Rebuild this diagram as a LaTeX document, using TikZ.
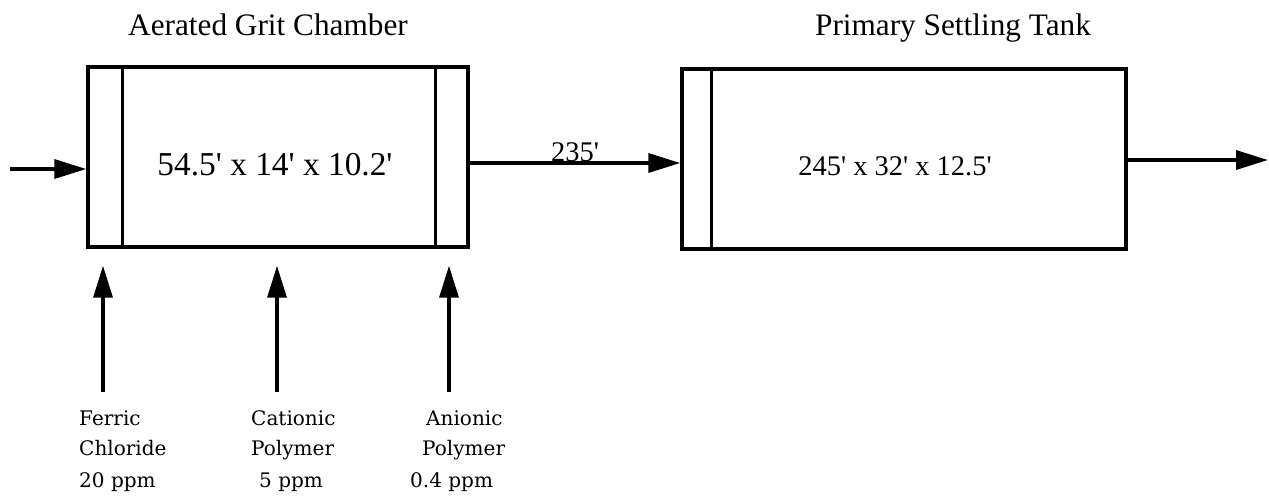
\documentclass[tikz,border=0pt]{standalone}
\usepackage{fontspec}
\setmainfont{Liberation Serif}[Ligatures=TeXOff]
\newfontfamily\labelfont{DejaVu Serif}
\usetikzlibrary{arrows.meta}

\tikzset{
    vessel/.style={draw, line width=2pt, minimum height=3.6cm, inner sep=0pt},
    flow/.style={line width=2pt, -{Triangle[length=0.64cm, width=0.38cm]}},
    title/.style={anchor=base, font=\fontsize{17.8}{20}\selectfont},
    dose/.style={anchor=base west, font=\labelfont\fontsize{11.4}{13}\selectfont},
}

\begin{document}
\begin{tikzpicture}[x=0.02cm, y=-0.02cm]
    \useasboundingbox (0,0) rectangle (1269,501);

    % basins
    \node[vessel, minimum width=7.6cm] (grit) at (278,157) {};
    \node[vessel, minimum width=8.88cm] (tank) at (904,159) {};
    \draw[line width=2pt] ([xshift=0.72cm]grit.north west) -- ([xshift=0.72cm]grit.south west);
    \draw[line width=2pt] ([xshift=-0.68cm]grit.north east) -- ([xshift=-0.68cm]grit.south east);
    \draw[line width=2pt] ([xshift=0.62cm]tank.north west) -- ([xshift=0.62cm]tank.south west);

    \node[title] (gritname) at (268,35) {Aerated Grit Chamber};
    \node[title] (tankname) at (953,35) {Primary Settling Tank};
    \node[anchor=base, font=\fontsize{19}{22}\selectfont] (gritsize) at (275,175) {54.5' x 14' x 10.2'};
    \node[anchor=base, font=\fontsize{16.2}{19}\selectfont] (tanksize) at (895,175) {245' x 32' x 12.5'};

    % flow line
    \coordinate (inlet) at (10,169);
    \coordinate (outlet) at (1268,160);
    \draw[flow] (inlet) -- (inlet -| grit.west);
    \draw[flow] ([yshift=-0.12cm]grit.east) --
        node[above, inner sep=0pt, yshift=-0.5pt, font=\fontsize{16.2}{19}\selectfont] (span) {235'}
        ([yshift=-0.08cm]tank.west);
    \draw[flow] (outlet -| tank.east) -- (outlet);

    % chemical dosing
    \coordinate (feedfe) at (103,392);
    \coordinate (feedcat) at (277,392);
    \coordinate (feedan) at (449,392);
    \draw[flow, shorten >=0.34cm] (feedfe) -- (feedfe |- grit.south);
    \draw[flow, shorten >=0.34cm] (feedcat) -- (feedcat |- grit.south);
    \draw[flow, shorten >=0.34cm] (feedan) -- (feedan |- grit.south);

    \node[dose] (fe1) at (73,425) {Ferric};
    \node[dose] (fe2) at (73,455) {Chloride};
    \node[dose] (fe3) at (73,487) {20 ppm};
    \node[dose] (cat1) at (245,425) {Cationic};
    \node[dose] (cat2) at (245,455) {Polymer};
    \node[dose] (cat3) at (253,487) {5 ppm};
    \node[dose] (an1) at (420,425) {Anionic};
    \node[dose] (an2) at (416,455) {Polymer};
    \node[dose] (an3) at (404,487) {0.4 ppm};
\end{tikzpicture}
\end{document}
